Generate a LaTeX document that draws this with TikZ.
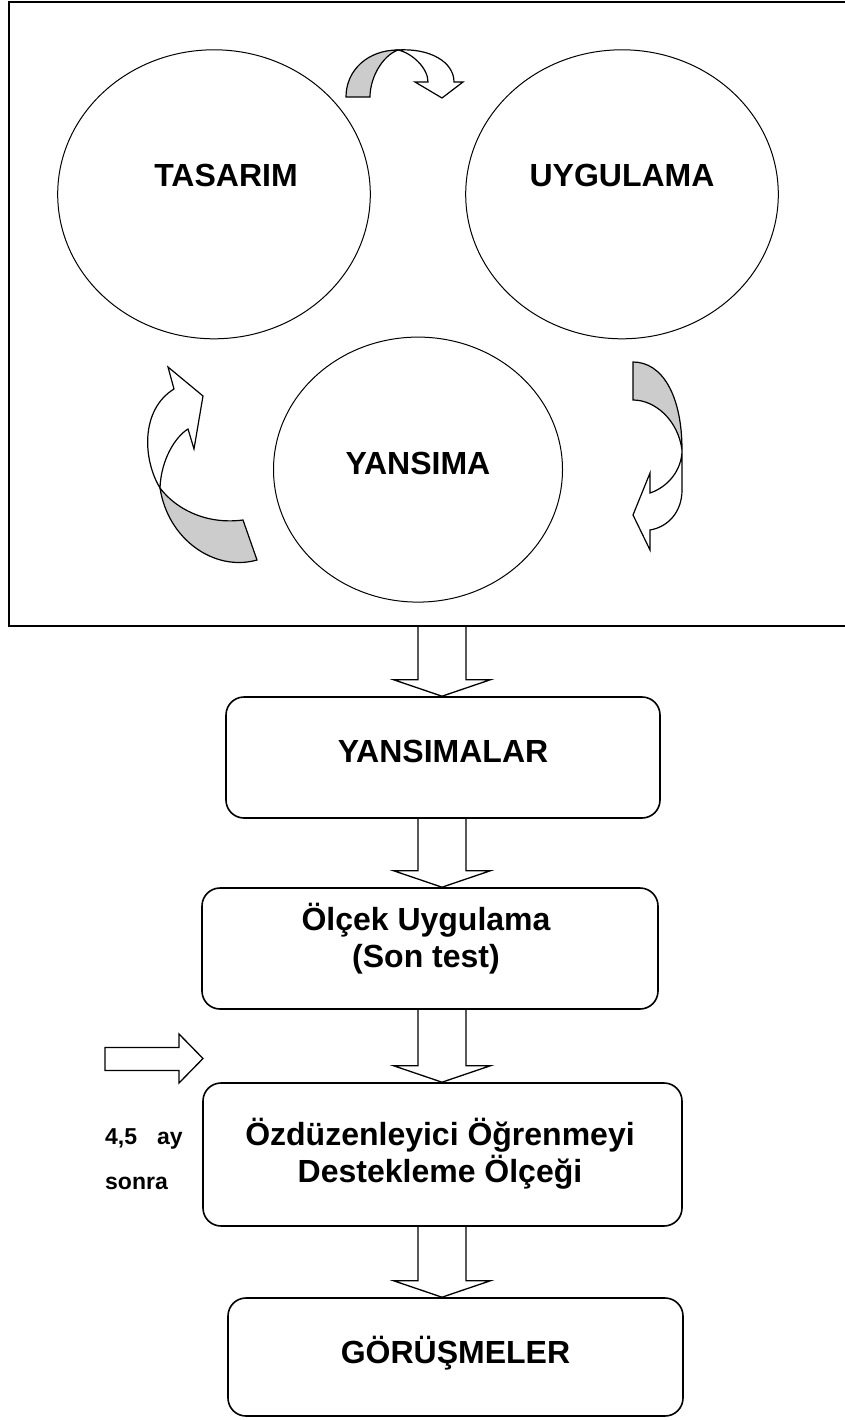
\documentclass[tikz,border=0pt]{standalone}
\usepackage{fontspec}
\setmainfont{Liberation Sans}
\usetikzlibrary{shapes.geometric,calc}

% x position of the column of block arrows
\def\ax{442pt}
% hollow block arrow pointing down, from a start point to the top of a box
\newcommand\flowarrow[2]{%
  \draw[blockarrow] let \p1=(#1), \p2=(#2.north) in
    (\ax-24pt,\y1) -- (\ax-24pt,\y2+16.5pt) -- (\ax-48.5pt,\y2+16.5pt)
    -- (\ax,\y2) -- (\ax+48.5pt,\y2+16.5pt) -- (\ax+24pt,\y2+16.5pt)
    -- (\ax+24pt,\y1);}

\begin{document}
\begin{tikzpicture}[x=1pt,y=-1pt,
  frame/.style={line width=2pt},
  circ/.style={ellipse, draw, line width=1pt, inner sep=0pt},
  stage/.style={draw, line width=1.6pt, rounded corners=18pt, inner sep=0pt},
  bigtxt/.style={font=\fontsize{32}{37}\selectfont\bfseries, anchor=base, inner sep=0pt},
  smalltxt/.style={font=\fontsize{23}{26}\selectfont\bfseries, anchor=base west, inner sep=0pt},
  band/.style={draw, line width=1.2pt, line join=miter},
  shade/.style={band, fill=black!20},
  blank/.style={band, fill=white},
  blockarrow/.style={draw, line width=1.3pt, line join=miter},
]
\useasboundingbox (0,0) rectangle (844,1420);

% cycle frame, open on the right
\draw[frame] (850,2) -- (9,2) -- (9,626) -- (850,626);
\coordinate (frameS) at (442,626);

% the three phases of the cycle
\node[circ, minimum width=312.6pt, minimum height=289pt] (tas) at (214,194.3) {};
\node[circ, minimum width=312.6pt, minimum height=289pt] (uyg) at (622,194.3) {};
\node[circ, minimum width=289pt, minimum height=265pt] (yan) at (418,469.6) {};
\node[bigtxt] (tasT) at (226,187) {TASARIM};
\node[bigtxt] (uygT) at (622,187) {UYGULAMA};
\node[bigtxt] (yanT) at (418,474.5) {YANSIMA};

% curved ribbon arrow: TASARIM -> UYGULAMA
\path[shade] (346,97) .. controls (346,70) and (368,50) .. (398,50)
  .. controls (382,56) and (370,78) .. (370,97) -- cycle;
\path[blank] (398,50) .. controls (430,48) and (454,62) .. (454,82)
  -- (463,82) -- (442,98) -- (415,82) -- (428,82)
  .. controls (428,68) and (412,53) .. (398,50) -- cycle;

% curved ribbon arrow: UYGULAMA -> YANSIMA
\path[shade] (633,362) .. controls (662,362) and (682,395) .. (682,450)
  .. controls (678,420) and (655,400) .. (633,400) -- cycle;
\path[blank] (682,450) -- (682,490) .. controls (682,512) and (668,527) .. (650,530)
  -- (650,550) -- (633,515) -- (650,473) -- (650,493)
  .. controls (668,487) and (682,470) .. (682,450) -- cycle;

% curved ribbon arrow: YANSIMA -> TASARIM
\path[shade] (160,488) .. controls (175,508) and (205,525) .. (243,520)
  -- (257,560) .. controls (215,572) and (168,540) .. (160,488) -- cycle;
\path[blank] (160,488) .. controls (143,460) and (140,410) .. (174,389)
  -- (168,367) -- (203,396) -- (194,449) -- (188,429)
  .. controls (175,437) and (161,460) .. (160,488) -- cycle;

% stages after the cycle
\node[stage, minimum width=434pt, minimum height=121pt] (b1) at (443,757.5) {};
\node[stage, minimum width=456pt, minimum height=121pt] (b2) at (430,948.5) {};
\node[stage, minimum width=479pt, minimum height=143pt] (b3) at (442.5,1154.5) {};
\node[stage, minimum width=455pt, minimum height=118pt] (b4) at (455.5,1357) {};

\node[bigtxt] (b1T) at (443,762) {YANSIMALAR};
\node[bigtxt] (b2Ta) at (426,930) {Ölçek Uygulama};
\node[bigtxt] (b2Tb) at (426,967) {(Son test)};
\node[bigtxt] (b3Ta) at (440,1145) {Özdüzenleyici Öğrenmeyi};
\node[bigtxt] (b3Tb) at (440,1182) {Destekleme Ölçeği};
\node[bigtxt] (b4T) at (455.5,1363) {GÖRÜŞMELER};

% block arrows between stages
\flowarrow{frameS}{b1}
\flowarrow{b1.south}{b2}
\flowarrow{b2.south}{b3}
\flowarrow{b3.south}{b4}

% time gap marker
\path[blockarrow] (105,1047.5) -- (179,1047.5) -- (179,1034) -- (203,1058.5)
  -- (179,1083) -- (179,1070.5) -- (105,1070.5) -- cycle;
\node[smalltxt] (gapA) at (105,1144) {4,5\hspace{20pt}ay};
\node[smalltxt] (gapB) at (105,1189) {sonra};
\end{tikzpicture}
\end{document}
